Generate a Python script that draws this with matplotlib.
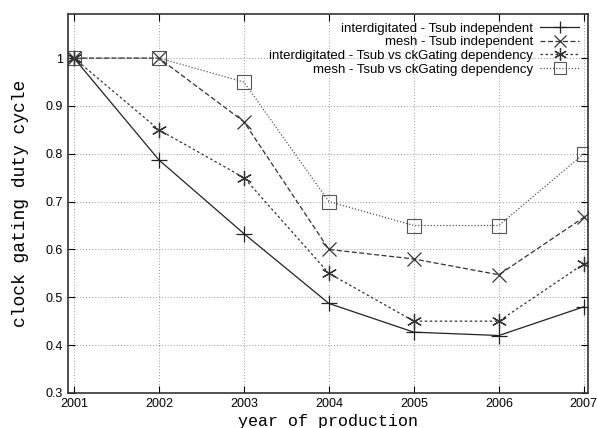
import matplotlib
matplotlib.use("Agg")
import matplotlib.pyplot as plt
from matplotlib.ticker import FuncFormatter

years = [2001, 2002, 2003, 2004, 2005, 2006, 2007]
inter_indep = [1.0, 0.787, 0.633, 0.487, 0.427, 0.42, 0.48]
mesh_indep = [1.0, 1.0, 0.867, 0.6, 0.58, 0.547, 0.667]
inter_dep = [1.0, 0.85, 0.75, 0.55, 0.45, 0.45, 0.57]
mesh_dep = [1.0, 1.0, 0.95, 0.7, 0.65, 0.65, 0.8]
labels = ["interdigitated - Tsub independent",
          "mesh - Tsub independent",
          "interdigitated - Tsub vs ckGating dependency",
          "mesh - Tsub vs ckGating dependency"]
yticks = [0.3, 0.4, 0.5, 0.6, 0.7, 0.8, 0.9, 1.0]

plt.rcParams['font.family'] = ['Liberation Sans', 'DejaVu Sans']
fig = plt.figure(figsize=(5.97, 4.28), dpi=100)
ax = fig.add_axes([0.114, 0.082, 0.871, 0.885])

ax.plot(years, inter_indep, color='#222222', lw=0.9, ls='-', marker='+', ms=11, mew=0.9, label=labels[0])
ax.plot(years, mesh_indep, color='#333333', lw=0.9, ls=(0, (4, 2)), marker='x', ms=10, mew=0.9, label=labels[1])
ax.plot(years, inter_dep, color='#333333', lw=0.9, ls=(0, (2, 2)), marker=(6, 2, 0), ms=11, mew=0.9, label=labels[2])
ax.plot(years, mesh_dep, color='#555555', lw=0.9, ls=(0, (1, 1.5)), marker='s', ms=10, mfc='none', mew=0.8, label=labels[3])

ax.set_xlim(2000.93, 2007.05)
ax.set_ylim(0.3, 1.092)
ax.set_xticks(years)
ax.set_yticks(yticks)
ax.yaxis.set_major_formatter(FuncFormatter(lambda v, p: "1" if abs(v - 1) < 1e-9 else f"{v:.1f}"))
ax.tick_params(direction='in', top=True, right=True, length=5, labelsize=9)
ax.grid(True, color='#999999', ls=(0, (1, 2)), lw=0.7)
for s in ax.spines.values():
    s.set_linewidth(1.2)
    s.set_color('#333333')

ax.set_xlabel("year of production", family='Liberation Mono', fontsize=12, labelpad=3)
ax.set_ylabel("clock gating duty cycle", family='Liberation Mono', fontsize=13, labelpad=12)

ax.legend(loc='upper right', frameon=False, markerfirst=False, fontsize=9.5,
          handlelength=3.0, handletextpad=0.5, labelspacing=0.1, borderaxespad=0.25,
          markerscale=0.85)

fig.savefig("out.png", dpi=100)
